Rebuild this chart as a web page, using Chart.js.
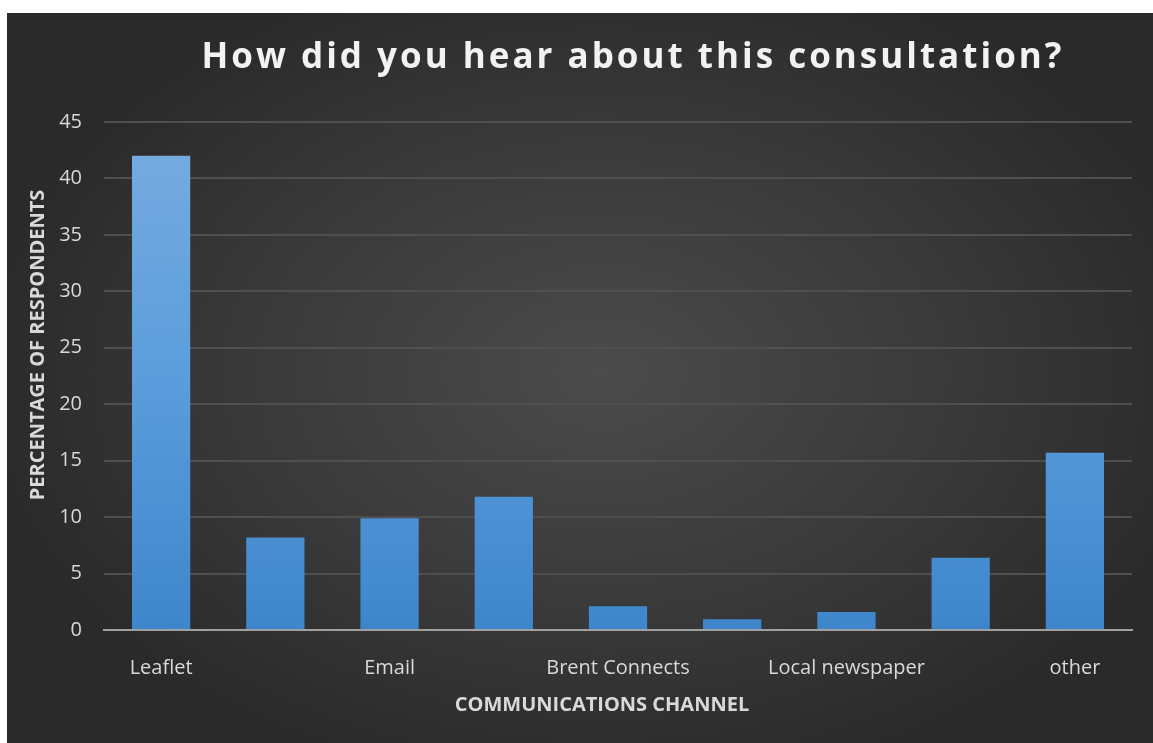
<!DOCTYPE html>
<html>
<head>
<meta charset="utf-8">
<title>How did you hear about this consultation?</title>
<script src="https://cdn.jsdelivr.net/npm/chart.js@4.4.1/dist/chart.umd.min.js"></script>
<style>
  body { margin: 0; background: #fff; }
  #frame {
    position: absolute; left: 7px; top: 13px; width: 1146px; height: 730px;
    background: radial-gradient(ellipse 620px 420px at 595px 360px, #4b4b4b 0%, #3a3a3a 55%, #2a2a2a 100%);
  }
  #chart { position: absolute; left: 0; top: 0; }
</style>
</head>
<body>
<div id="frame"></div>
<canvas id="chart" width="1153" height="743"></canvas>
<script>
// survey answers, share of respondents in %
var channels = ["Leaflet", "", "Email", "", "Brent Connects", "", "Local newspaper", "", "other"];
var percentages = [42, 8.2, 9.9, 11.8, 2.1, 0.95, 1.6, 6.4, 15.7];
var yTicks = [0, 5, 10, 15, 20, 25, 30, 35, 40, 45];

var chartTitle = "How did you hear about this consultation?";
var xTitle = "COMMUNICATIONS CHANNEL";
var yTitle = "PERCENTAGE OF RESPONDENTS";

var textColor = '#d9d9d9';

// headings drawn by hand so the big title can get some letter spacing
var headings = {
  id: 'headings',
  afterDraw: function(chart) {
    var ctx = chart.ctx;
    ctx.save();
    ctx.textAlign = 'center';
    ctx.textBaseline = 'alphabetic';

    ctx.fillStyle = '#f2f2f2';
    ctx.font = 'bold 35px "Open Sans"';
    ctx.letterSpacing = '3px';
    ctx.fillText(chartTitle, 633, 68);

    ctx.letterSpacing = '0px';
    ctx.fillStyle = textColor;
    ctx.font = 'bold 20px "Open Sans"';
    ctx.fillText(xTitle, 602, 711);

    ctx.translate(44, 345);
    ctx.rotate(-Math.PI / 2);
    ctx.fillText(yTitle, 0, 0);
    ctx.restore();
  }
};

function barFill(context) {
  var area = context.chart.chartArea;
  if (!area) return '#5b9bd5';
  var g = context.chart.ctx.createLinearGradient(0, area.top, 0, area.bottom);
  g.addColorStop(0, '#78acdf');
  g.addColorStop(0.5, '#5b9ddc');
  g.addColorStop(1, '#3e86cb');
  return g;
}

new Chart(document.getElementById('chart'), {
  type: 'bar',
  data: {
    labels: channels,
    datasets: [{
      data: percentages,
      backgroundColor: barFill,
      borderWidth: 0,
      categoryPercentage: 1,
      barPercentage: 0.51
    }]
  },
  plugins: [headings],
  options: {
    responsive: false,
    animation: false,
    layout: { padding: { top: 122, right: 21, bottom: 0, left: 0 } },
    plugins: {
      legend: { display: false },
      title: { display: false },
      tooltip: { enabled: false }
    },
    scales: {
      x: {
        afterFit: function(s) { s.height = 113; },
        grid: { display: false, drawTicks: false },
        border: { color: '#a0a0a0', width: 2 },
        ticks: {
          color: textColor,
          font: { family: '"Open Sans"', size: 20 },
          autoSkip: false,
          maxRotation: 0,
          padding: 26
        }
      },
      y: {
        min: 0,
        max: 45,
        afterFit: function(s) { s.width = 104; },
        afterBuildTicks: function(s) {
          s.ticks = yTicks.map(function(v) { return { value: v }; });
        },
        grid: { color: '#4f4f4f', lineWidth: 2, drawTicks: false },
        border: { display: false },
        ticks: {
          color: textColor,
          font: { family: '"Open Sans"', size: 20 },
          padding: 22
        }
      }
    }
  }
});
</script>
</body>
</html>
